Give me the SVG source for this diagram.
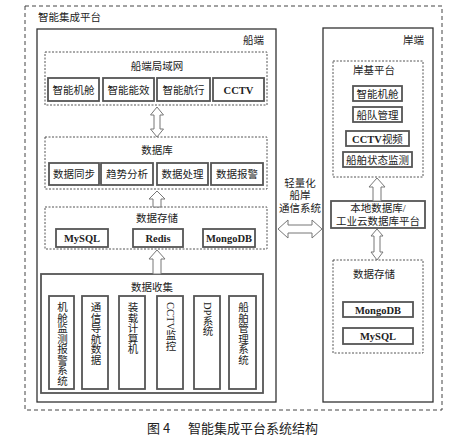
<svg xmlns="http://www.w3.org/2000/svg" width="474" height="441" viewBox="0 0 474 441">
<style>
text{font-family:"Liberation Serif","Noto Sans CJK SC",serif;font-size:10.5px;fill:#222;}
.c{text-anchor:middle;}
.r{text-anchor:end;}
.v{writing-mode:vertical-rl;}
.outer{fill:none;stroke:#444;stroke-width:1;stroke-dasharray:4 3;}
.solid{fill:none;stroke:#333;stroke-width:1.3;}
.gsolid{fill:none;stroke:#555;stroke-width:1.8;}
.dash{fill:none;stroke:#555;stroke-width:1;stroke-dasharray:2 1.5;}
.item{fill:#fff;stroke:#555;stroke-width:1.8;}
.arrow{fill:#fff;stroke:#777;stroke-width:1;}
.cap{font-family:"Noto Sans CJK SC","Liberation Sans",sans-serif;font-size:13px;fill:#222;}
</style>
<rect width="474" height="441" fill="#fff"/>
<g id="platform">
<rect class="outer" x="25" y="6" width="417" height="404"/>
<text x="38" y="21">智能集成平台</text>
</g>
<g id="ship">
<rect class="solid" x="37" y="29" width="239" height="373"/>
<text class="r" x="264" y="44">船端</text>
</g>
<g id="lan">
<rect class="dash" x="45" y="52" width="222" height="53"/>
<text class="c" x="157" y="70">船端局域网</text>
<rect class="item" x="48" y="78" width="51" height="23"/><text class="c" x="73.5" y="93.5">智能机舱</text>
<rect class="item" x="103" y="78" width="51" height="23"/><text class="c" x="128.5" y="93.5">智能能效</text>
<rect class="item" x="157" y="78" width="53" height="23"/><text class="c" x="183.5" y="93.5">智能航行</text>
<rect class="item" x="213" y="78" width="51" height="23"/><text class="c" x="238.5" y="93.5" style="font-weight:bold">CCTV</text>
</g>
<g id="database">
<rect class="dash" x="45" y="137" width="222" height="52"/>
<text class="c" x="157" y="154">数据库</text>
<rect class="item" x="49" y="163" width="50" height="22"/><text class="c" x="74" y="178">数据同步</text>
<rect class="item" x="101" y="163" width="52" height="22"/><text class="c" x="127" y="178">趋势分析</text>
<rect class="item" x="157" y="163" width="51" height="22"/><text class="c" x="182.5" y="178">数据处理</text>
<rect class="item" x="211" y="163" width="52" height="22"/><text class="c" x="237" y="178">数据报警</text>
</g>
<g id="storage">
<rect class="dash" x="45" y="207" width="222" height="42"/>
<text class="c" x="157" y="222">数据存储</text>
<rect class="item" x="56" y="229" width="52" height="18"/><text class="c" x="82" y="242" style="font-weight:bold">MySQL</text>
<rect class="item" x="133" y="229" width="50" height="18"/><text class="c" x="158" y="242" style="font-weight:bold">Redis</text>
<rect class="item" x="203" y="229" width="52" height="18"/><text class="c" x="229" y="242" style="font-weight:bold">MongoDB</text>
</g>
<g id="collection">
<rect class="gsolid" x="41" y="274" width="222" height="119"/>
<text class="c" x="152" y="291">数据收集</text>
<rect class="item" x="49" y="296" width="25" height="93"/><text class="v" x="61.5" y="302">机舱监测报警系统</text>
<rect class="item" x="82" y="296" width="26" height="93"/><text class="v" x="95" y="302">通信导航数据</text>
<rect class="item" x="119" y="296" width="26" height="93"/><text class="v" x="132" y="302">装载计算机</text>
<rect class="item" x="157" y="296" width="26" height="93"/><text class="v" x="170" y="302">CCTV监控</text>
<rect class="item" x="194" y="296" width="26" height="93"/><text class="v" x="207" y="302">DP系统</text>
<rect class="item" x="229" y="296" width="27" height="93"/><text class="v" x="242.5" y="302">船舶管理系统</text>
</g>
<g id="comm">
<text class="c" x="300" y="187">轻量化</text>
<text class="c" x="300" y="199">船岸</text>
<text class="c" x="300" y="212">通信系统</text>
</g>
<g id="shore">
<rect class="solid" x="323" y="28" width="110" height="374"/>
<text class="r" x="424" y="44">岸端</text>
</g>
<g id="shore-platform">
<rect class="dash" x="333" y="61" width="90" height="116"/>
<text class="c" x="374" y="74">岸基平台</text>
<rect class="item" x="353" y="86" width="49" height="15"/><text class="c" x="377.5" y="97.5">智能机舱</text>
<rect class="item" x="353" y="107" width="49" height="15"/><text class="c" x="377.5" y="118.5">船队管理</text>
<rect class="item" x="346" y="131" width="63" height="15"/><text class="c" x="377.5" y="142.5" style="font-weight:bold">CCTV<tspan style="font-weight:normal">视频</tspan></text>
<rect class="item" x="343" y="152" width="69" height="15"/><text class="c" x="377.5" y="163.5">船舶状态监测</text>
</g>
<g id="local-db">
<rect class="item" x="331" y="201" width="94" height="27"/>
<text class="c" x="378" y="212">本地数据库/</text>
<text class="c" x="378" y="225">工业云数据库平台</text>
</g>
<g id="shore-storage">
<rect class="dash" x="333" y="260" width="90" height="93"/>
<text class="c" x="374" y="278">数据存储</text>
<rect class="item" x="343" y="302" width="70" height="15"/><text class="c" x="378" y="313.5" style="font-weight:bold">MongoDB</text>
<rect class="item" x="343" y="328" width="70" height="16"/><text class="c" x="378" y="340" style="font-weight:bold">MySQL</text>
</g>
<g id="connectors">
<polygon class="arrow" points="157,107 163.5,115 160,115 160,129 163.5,129 157,137 150.5,129 154,129 154,115 150.5,115"/>
<polygon class="arrow" points="157,191 165,199 161,199 161,207 153,207 153,199 149,199"/>
<polygon class="arrow" points="157,250 165,259 161,259 161,274 153,274 153,259 149,259"/>
<polygon class="arrow" points="278,229 288,220 288,225 312,225 312,220 322,229 312,238 312,233 288,233 288,238"/>
<polygon class="arrow" points="377,178 385,187 381,187 381,201 373,201 373,187 369,187"/>
<polygon class="arrow" points="377,229 383,236 380,236 380,252 383,252 377,260 371,252 374,252 374,236 371,236"/>
</g>
<text class="cap" x="147" y="433">图 4</text>
<text class="cap" x="188" y="433">智能集成平台系统结构</text>
</svg>
